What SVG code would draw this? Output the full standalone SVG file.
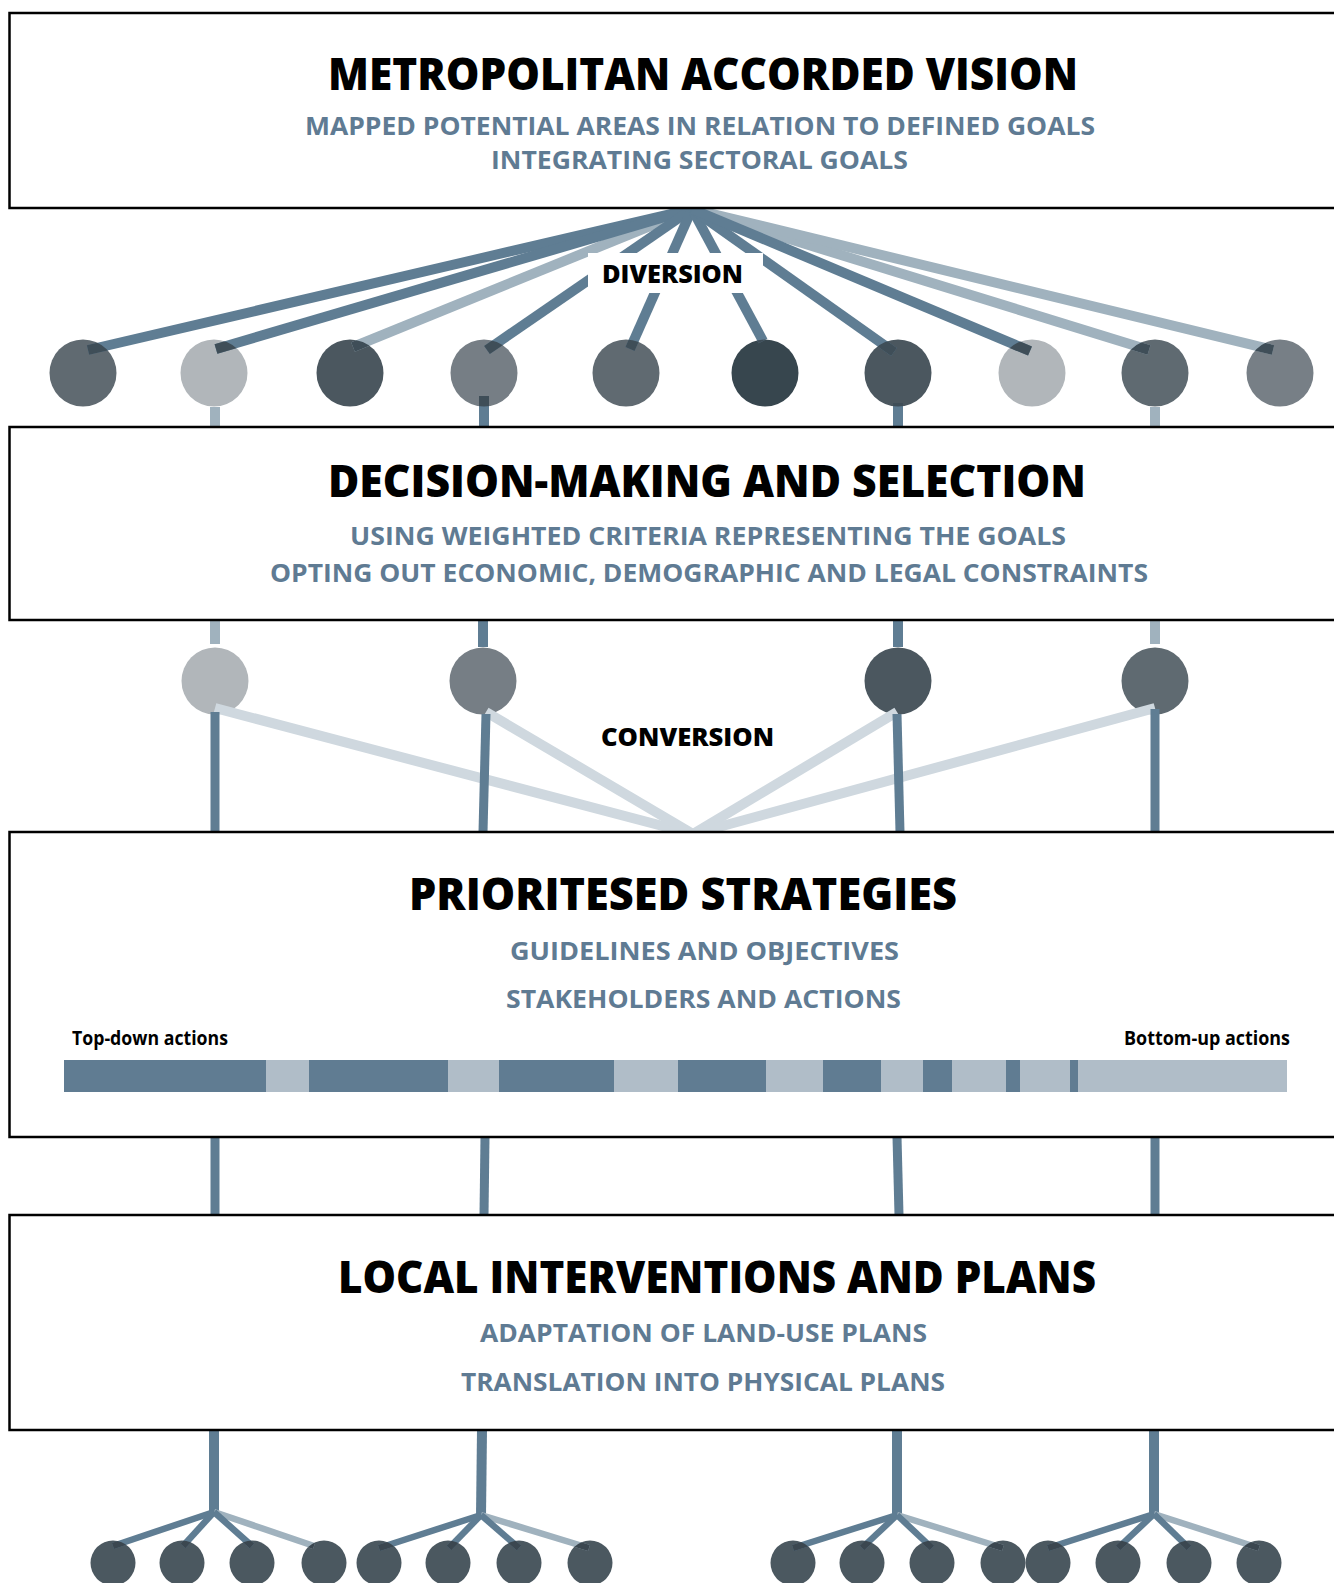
<svg xmlns="http://www.w3.org/2000/svg" width="1334" height="1583" viewBox="0 0 1334 1583">
<style>
.box{fill:#fff;stroke:#000;stroke-width:2.5}
.t{font-family:"Open Sans","Noto Sans","Liberation Sans",sans-serif;font-weight:700}
.title{font-size:44px;fill:#000;font-weight:800}
.sub{font-size:25px;fill:#5f7b93}
.lab{font-size:25px;fill:#000;font-weight:800}
.small{font-size:19px;fill:#000}
.dk{stroke:#5f7d93;fill:none}
.lt{stroke:#a0b2be;fill:none}
.cv{stroke:#cfd8df;fill:none}
.w9{stroke-width:10}
.w10{stroke-width:10}
.w9b{stroke-width:9}
.w6{stroke-width:6.5}
.bd{fill:#607c92}
.bl{fill:#b0bdc8}
.bc{fill:#4b5860}
</style>
<defs>
<clipPath id="clipTop">
<circle cx="83" cy="373" r="33.5"/><circle cx="214" cy="373" r="33.5"/><circle cx="350" cy="373" r="33.5"/><circle cx="484" cy="373" r="33.5"/><circle cx="626" cy="373" r="33.5"/><circle cx="765" cy="373" r="33.5"/><circle cx="898" cy="373" r="33.5"/><circle cx="1032" cy="373" r="33.5"/><circle cx="1155" cy="373" r="33.5"/><circle cx="1280" cy="373" r="33.5"/>
</clipPath>
<clipPath id="clipBot">
<circle cx="113" cy="1563" r="22.5"/><circle cx="182" cy="1563" r="22.5"/><circle cx="252" cy="1563" r="22.5"/><circle cx="324" cy="1563" r="22.5"/><circle cx="379" cy="1563" r="22.5"/><circle cx="448" cy="1563" r="22.5"/><circle cx="519" cy="1563" r="22.5"/><circle cx="590" cy="1563" r="22.5"/><circle cx="793" cy="1563" r="22.5"/><circle cx="862" cy="1563" r="22.5"/><circle cx="932" cy="1563" r="22.5"/><circle cx="1003" cy="1563" r="22.5"/><circle cx="1048" cy="1563" r="22.5"/><circle cx="1118" cy="1563" r="22.5"/><circle cx="1189" cy="1563" r="22.5"/><circle cx="1259" cy="1563" r="22.5"/>
</clipPath>
</defs>

<g id="nodes-circles-top">
<circle cx="83" cy="373" r="33.5" fill="#606a71"/>
<circle cx="214" cy="373" r="33.5" fill="#b1b6ba"/>
<circle cx="350" cy="373" r="33.5" fill="#4b575f"/>
<circle cx="484" cy="373" r="33.5" fill="#767e85"/>
<circle cx="626" cy="373" r="33.5" fill="#606a71"/>
<circle cx="765" cy="373" r="33.5" fill="#37464e"/>
<circle cx="898" cy="373" r="33.5" fill="#4b575f"/>
<circle cx="1032" cy="373" r="33.5" fill="#b1b6ba"/>
<circle cx="1155" cy="373" r="33.5" fill="#5f6a71"/>
<circle cx="1280" cy="373" r="33.5" fill="#777f86"/>
</g>

<g id="nodes-circles-mid">
<circle cx="215" cy="681" r="33.5" fill="#b1b6ba"/>
<circle cx="483" cy="681" r="33.5" fill="#767e85"/>
<circle cx="898" cy="681" r="33.5" fill="#4b575f"/>
<circle cx="1155" cy="681" r="33.5" fill="#5f6a71"/>
</g>

<g id="nodes-circles-bottom">
<circle class="bc" cx="113" cy="1563" r="22.5"/><circle class="bc" cx="182" cy="1563" r="22.5"/><circle class="bc" cx="252" cy="1563" r="22.5"/><circle class="bc" cx="324" cy="1563" r="22.5"/>
<circle class="bc" cx="379" cy="1563" r="22.5"/><circle class="bc" cx="448" cy="1563" r="22.5"/><circle class="bc" cx="519" cy="1563" r="22.5"/><circle class="bc" cx="590" cy="1563" r="22.5"/>
<circle class="bc" cx="793" cy="1563" r="22.5"/><circle class="bc" cx="862" cy="1563" r="22.5"/><circle class="bc" cx="932" cy="1563" r="22.5"/><circle class="bc" cx="1003" cy="1563" r="22.5"/>
<circle class="bc" cx="1048" cy="1563" r="22.5"/><circle class="bc" cx="1118" cy="1563" r="22.5"/><circle class="bc" cx="1189" cy="1563" r="22.5"/><circle class="bc" cx="1259" cy="1563" r="22.5"/>
</g>

<g id="connectors">
<g class="w9">
<line class="lt" x1="692" y1="209" x2="353" y2="347"/>
<line class="lt" x1="692" y1="209" x2="1149" y2="350"/>
<line class="lt" x1="692" y1="209" x2="1273" y2="350"/>
<line class="dk" x1="692" y1="209" x2="88" y2="350"/>
<line class="dk" x1="692" y1="209" x2="216" y2="349"/>
<line class="dk" x1="692" y1="209" x2="487" y2="350"/>
<line class="dk" x1="692" y1="209" x2="630" y2="349"/>
<line class="dk" x1="692" y1="209" x2="763" y2="341"/>
<line class="dk" x1="692" y1="209" x2="894" y2="352"/>
<line class="dk" x1="692" y1="209" x2="1030" y2="351"/>
</g>
<g class="w10">
<line class="lt" x1="215" y1="407" x2="215" y2="427"/>
<line class="dk" x1="484" y1="396" x2="484" y2="427"/>
<line class="dk" x1="898" y1="403" x2="898" y2="427"/>
<line class="lt" x1="1155" y1="407" x2="1155" y2="427"/>
<line class="lt" x1="215" y1="620" x2="215" y2="644"/>
<line class="dk" x1="483" y1="620" x2="483" y2="647"/>
<line class="dk" x1="898" y1="620" x2="898" y2="647"/>
<line class="lt" x1="1155" y1="620" x2="1155" y2="644"/>
</g>
<g class="w10">
<line class="cv" x1="215" y1="708" x2="693" y2="834"/>
<line class="cv" x1="486" y1="712" x2="693" y2="834"/>
<line class="cv" x1="897" y1="712" x2="693" y2="834"/>
<line class="cv" x1="1155" y1="708" x2="693" y2="834"/>
</g>
<g class="w9b">
<line class="dk" x1="215" y1="712" x2="215" y2="832"/>
<line class="dk" x1="486" y1="714" x2="483" y2="832"/>
<line class="dk" x1="897" y1="714" x2="900" y2="832"/>
<line class="dk" x1="1155" y1="709" x2="1155" y2="832"/>
<line class="dk" x1="215" y1="1137" x2="215" y2="1215"/>
<line class="dk" x1="485" y1="1137" x2="484" y2="1215"/>
<line class="dk" x1="897" y1="1137" x2="899" y2="1215"/>
<line class="dk" x1="1155" y1="1137" x2="1155" y2="1215"/>
</g>
<g class="w10">
<line class="dk" x1="214" y1="1430" x2="214" y2="1513"/>
<line class="dk" x1="482" y1="1430" x2="481" y2="1516"/>
<line class="dk" x1="897" y1="1430" x2="897" y2="1516"/>
<line class="dk" x1="1154" y1="1430" x2="1154" y2="1515"/>
</g>
<g class="w6">
<line class="lt" x1="214" y1="1512" x2="314" y2="1546"/>
<line class="dk" x1="214" y1="1512" x2="113" y2="1546"/>
<line class="dk" x1="214" y1="1512" x2="183" y2="1546"/>
<line class="dk" x1="214" y1="1512" x2="252" y2="1546"/>
<line class="lt" x1="481" y1="1515" x2="589" y2="1548"/>
<line class="dk" x1="481" y1="1515" x2="379" y2="1548"/>
<line class="dk" x1="481" y1="1515" x2="449" y2="1548"/>
<line class="dk" x1="481" y1="1515" x2="519" y2="1548"/>
<line class="lt" x1="897" y1="1515" x2="1003" y2="1548"/>
<line class="dk" x1="897" y1="1515" x2="793" y2="1548"/>
<line class="dk" x1="897" y1="1515" x2="862" y2="1548"/>
<line class="dk" x1="897" y1="1515" x2="932" y2="1548"/>
<line class="lt" x1="1154" y1="1514" x2="1259" y2="1548"/>
<line class="dk" x1="1154" y1="1514" x2="1048" y2="1548"/>
<line class="dk" x1="1154" y1="1514" x2="1118" y2="1548"/>
<line class="dk" x1="1154" y1="1514" x2="1189" y2="1548"/>
</g>
<g clip-path="url(#clipTop)" stroke="#3f4e58" fill="none">
<g stroke-width="10">
<line x1="692" y1="209" x2="353" y2="347"/><line x1="692" y1="209" x2="1149" y2="350"/><line x1="692" y1="209" x2="1273" y2="350"/>
<line x1="692" y1="209" x2="88" y2="350"/><line x1="692" y1="209" x2="216" y2="349"/><line x1="692" y1="209" x2="487" y2="350"/>
<line x1="692" y1="209" x2="630" y2="349"/><line x1="692" y1="209" x2="763" y2="341"/><line x1="692" y1="209" x2="894" y2="352"/><line x1="692" y1="209" x2="1030" y2="351"/>
</g>
<line stroke-width="10" x1="484" y1="396" x2="484" y2="427"/>
<line stroke-width="10" x1="898" y1="403" x2="898" y2="427"/>
</g>
<g clip-path="url(#clipBot)" stroke="#3b4750" fill="none" stroke-width="6.5">
<line x1="214" y1="1512" x2="314" y2="1546"/><line x1="214" y1="1512" x2="113" y2="1546"/><line x1="214" y1="1512" x2="183" y2="1546"/><line x1="214" y1="1512" x2="252" y2="1546"/>
<line x1="481" y1="1515" x2="589" y2="1548"/><line x1="481" y1="1515" x2="379" y2="1548"/><line x1="481" y1="1515" x2="449" y2="1548"/><line x1="481" y1="1515" x2="519" y2="1548"/>
<line x1="897" y1="1515" x2="1003" y2="1548"/><line x1="897" y1="1515" x2="793" y2="1548"/><line x1="897" y1="1515" x2="862" y2="1548"/><line x1="897" y1="1515" x2="932" y2="1548"/>
<line x1="1154" y1="1514" x2="1259" y2="1548"/><line x1="1154" y1="1514" x2="1048" y2="1548"/><line x1="1154" y1="1514" x2="1118" y2="1548"/><line x1="1154" y1="1514" x2="1189" y2="1548"/>
</g>
<g id="label-diversion">
<rect x="588" y="253" width="175" height="40" fill="#fff"/>
<text class="t lab" x="602" y="283" textLength="141" lengthAdjust="spacingAndGlyphs">DIVERSION</text>
</g>
<g id="label-conversion">
<text class="t lab" x="601" y="746" textLength="173" lengthAdjust="spacingAndGlyphs">CONVERSION</text>
</g>
</g>

<g id="node-vision">
<rect class="box" x="9.5" y="13" width="1340" height="195"/>
<text class="t title" x="328" y="90" textLength="750" lengthAdjust="spacingAndGlyphs">METROPOLITAN ACCORDED VISION</text>
<text class="t sub" x="305" y="135" textLength="790" lengthAdjust="spacingAndGlyphs">MAPPED POTENTIAL AREAS IN RELATION TO DEFINED GOALS</text>
<text class="t sub" x="491" y="168.5" textLength="417" lengthAdjust="spacingAndGlyphs">INTEGRATING SECTORAL GOALS</text>
</g>

<g id="node-decision">
<rect class="box" x="9.5" y="427" width="1340" height="193"/>
<text class="t title" x="328" y="496.5" textLength="758" lengthAdjust="spacingAndGlyphs">DECISION-MAKING AND SELECTION</text>
<text class="t sub" x="350" y="545" textLength="716" lengthAdjust="spacingAndGlyphs">USING WEIGHTED CRITERIA REPRESENTING THE GOALS</text>
<text class="t sub" x="270" y="581.5" textLength="878" lengthAdjust="spacingAndGlyphs">OPTING OUT ECONOMIC, DEMOGRAPHIC AND LEGAL CONSTRAINTS</text>
</g>

<g id="node-strategies">
<rect class="box" x="9.5" y="832" width="1340" height="305"/>
<text class="t title" x="409" y="910" textLength="548" lengthAdjust="spacingAndGlyphs">PRIORITESED STRATEGIES</text>
<text class="t sub" x="510" y="960" textLength="389" lengthAdjust="spacingAndGlyphs">GUIDELINES AND OBJECTIVES</text>
<text class="t sub" x="506" y="1008" textLength="395" lengthAdjust="spacingAndGlyphs">STAKEHOLDERS AND ACTIONS</text>
<text class="t small" x="72" y="1045" textLength="156" lengthAdjust="spacingAndGlyphs">Top-down actions</text>
<text class="t small" x="1124" y="1045" textLength="166" lengthAdjust="spacingAndGlyphs">Bottom-up actions</text>
<g id="action-bar">
<rect class="bd" x="64" y="1060" width="202" height="32"/>
<rect class="bl" x="266" y="1060" width="43" height="32"/>
<rect class="bd" x="309" y="1060" width="139" height="32"/>
<rect class="bl" x="448" y="1060" width="51" height="32"/>
<rect class="bd" x="499" y="1060" width="115" height="32"/>
<rect class="bl" x="614" y="1060" width="64" height="32"/>
<rect class="bd" x="678" y="1060" width="88" height="32"/>
<rect class="bl" x="766" y="1060" width="57" height="32"/>
<rect class="bd" x="823" y="1060" width="58" height="32"/>
<rect class="bl" x="881" y="1060" width="42" height="32"/>
<rect class="bd" x="923" y="1060" width="29" height="32"/>
<rect class="bl" x="952" y="1060" width="54" height="32"/>
<rect class="bd" x="1006" y="1060" width="14" height="32"/>
<rect class="bl" x="1020" y="1060" width="50" height="32"/>
<rect class="bd" x="1070" y="1060" width="8" height="32"/>
<rect class="bl" x="1078" y="1060" width="209" height="32"/>
</g>
</g>

<g id="node-local">
<rect class="box" x="9.5" y="1215" width="1340" height="215"/>
<text class="t title" x="338" y="1293" textLength="758" lengthAdjust="spacingAndGlyphs">LOCAL INTERVENTIONS AND PLANS</text>
<text class="t sub" x="480" y="1342" textLength="447" lengthAdjust="spacingAndGlyphs">ADAPTATION OF LAND-USE PLANS</text>
<text class="t sub" x="461" y="1391" textLength="484" lengthAdjust="spacingAndGlyphs">TRANSLATION INTO PHYSICAL PLANS</text>
</g>
</svg>
